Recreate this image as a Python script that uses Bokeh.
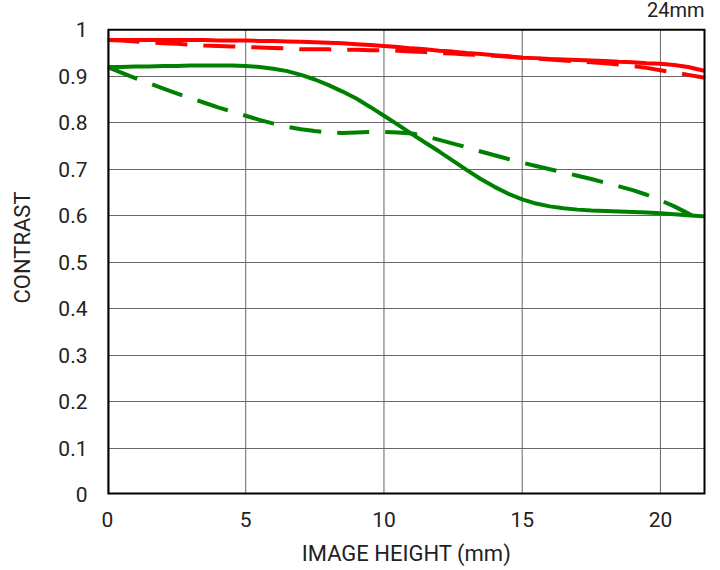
from bokeh.plotting import figure
from bokeh.models import Range1d, FixedTicker, CustomJSTickFormatter, Label
from bokeh.embed import file_html
from bokeh.resources import INLINE

# ---- data ----
image_height = [0, 0.5, 1, 1.5, 2, 2.5, 3, 3.5, 4, 4.5, 5, 5.5, 6, 6.5, 7, 7.5, 8, 8.5, 9, 9.5,
                10, 10.5, 11, 11.5, 12, 12.5, 13, 13.5, 14, 14.5, 15, 15.5, 16, 16.5, 17, 17.5,
                18, 18.5, 19, 19.5, 20, 20.5, 21, 21.5, 21.63]
red_solid = [0.978, 0.978, 0.978, 0.978, 0.978, 0.978, 0.978, 0.978, 0.977, 0.977, 0.977, 0.976,
             0.976, 0.975, 0.974, 0.973, 0.972, 0.971, 0.969, 0.967, 0.965, 0.963, 0.960, 0.958,
             0.955, 0.953, 0.950, 0.948, 0.945, 0.943, 0.940, 0.939, 0.937, 0.936, 0.935, 0.934,
             0.933, 0.931, 0.930, 0.928, 0.927, 0.924, 0.920, 0.913, 0.911]
red_dashed = [0.978, 0.977, 0.975, 0.973, 0.971, 0.970, 0.968, 0.966, 0.965, 0.964, 0.963, 0.962,
              0.961, 0.960, 0.958, 0.958, 0.958, 0.957, 0.957, 0.956, 0.956, 0.955, 0.953, 0.952,
              0.950, 0.949, 0.947, 0.946, 0.944, 0.942, 0.940, 0.938, 0.936, 0.934, 0.932, 0.930,
              0.928, 0.925, 0.922, 0.918, 0.913, 0.908, 0.903, 0.898, 0.896]
green_solid = [0.920, 0.920, 0.921, 0.921, 0.922, 0.922, 0.923, 0.923, 0.923, 0.923, 0.922, 0.920,
               0.916, 0.911, 0.903, 0.893, 0.881, 0.867, 0.852, 0.834, 0.815, 0.796, 0.776, 0.757,
               0.738, 0.718, 0.698, 0.679, 0.662, 0.647, 0.635, 0.626, 0.620, 0.616, 0.613, 0.611,
               0.610, 0.609, 0.608, 0.607, 0.605, 0.603, 0.601, 0.599, 0.598]
green_dashed = [0.920, 0.908, 0.896, 0.885, 0.874, 0.863, 0.853, 0.843, 0.833, 0.824, 0.815, 0.806,
                0.798, 0.791, 0.786, 0.782, 0.779, 0.778, 0.779, 0.780, 0.780, 0.779, 0.777, 0.771,
                0.763, 0.755, 0.747, 0.738, 0.730, 0.722, 0.714, 0.707, 0.700, 0.693, 0.686, 0.679,
                0.671, 0.663, 0.655, 0.645, 0.633, 0.620, 0.605, 0.588, 0.582]
x_ticks = [0, 5, 10, 15, 20]
y_ticks = [0, 0.1, 0.2, 0.3, 0.4, 0.5, 0.6, 0.7, 0.8, 0.9, 1.0]
title_text = "24mm"
x_label = "IMAGE HEIGHT (mm)"
y_label = "CONTRAST"

X_MAX = 21.63
Y_MAX = 1.0
Y_HEADROOM = 1.063  # room above the chart box for the "24mm" caption

FONT = "Roboto"
TXT = "#222222"
GRID = "#666666"

p = figure(width=720, height=570, output_backend="svg", toolbar_location=None,
           x_range=Range1d(0, X_MAX), y_range=Range1d(0, Y_HEADROOM),
           min_border_left=107, min_border_right=15, min_border_top=0, min_border_bottom=76)
p.background_fill_color = "white"
p.border_fill_color = "white"
p.outline_line_color = None

# grid: horizontal lines from the y grid, vertical lines limited to the chart box
p.ygrid.grid_line_color = GRID
p.ygrid.grid_line_width = 1
p.xgrid.visible = False
p.segment(x0=x_ticks, y0=[0] * len(x_ticks), x1=x_ticks, y1=[Y_MAX] * len(x_ticks),
          line_color=GRID, line_width=1)

p.line(image_height, red_solid, line_color="#ff0000", line_width=4)
p.line(image_height, red_dashed, line_color="#ff0000", line_width=4, line_dash="32 16")
p.line(image_height, green_solid, line_color="#008000", line_width=4)
p.line(image_height, green_dashed, line_color="#008000", line_width=4, line_dash="32 16")

# chart box border (left/bottom/right lie on the frame edge, so half is clipped)
p.line([0, 0, X_MAX, X_MAX], [Y_MAX, 0, 0, Y_MAX], line_color="black", line_width=4)
p.line([0, X_MAX], [Y_MAX, Y_MAX], line_color="black", line_width=2)

p.xaxis.ticker = FixedTicker(ticks=x_ticks)
p.yaxis.ticker = FixedTicker(ticks=y_ticks)
p.yaxis.formatter = CustomJSTickFormatter(
    code="return (Math.abs(tick) < 1e-9 || Math.abs(tick - 1) < 1e-9) ? tick.toFixed(0) : tick.toFixed(1);")

for ax in (p.xaxis, p.yaxis):
    ax.axis_line_color = None
    ax.major_tick_line_color = None
    ax.minor_tick_line_color = None
    ax.major_tick_out = 0
    ax.major_tick_in = 0
    ax.major_label_text_font = FONT
    ax.major_label_text_font_size = "21px"
    ax.major_label_text_color = TXT
    ax.axis_label_text_font = FONT
    ax.axis_label_text_font_size = "22px"
    ax.axis_label_text_font_style = "normal"
    ax.axis_label_text_color = TXT

p.xaxis.axis_label = x_label
p.yaxis.axis_label = y_label
p.yaxis.major_label_standoff = 20
p.xaxis.major_label_standoff = 17
p.yaxis.axis_label_standoff = 20
p.xaxis.axis_label_standoff = 11

caption = Label(x=X_MAX, y=Y_MAX, text=title_text, text_align="right", text_baseline="alphabetic",
                x_offset=-1, y_offset=20, text_font=FONT, text_font_size="20px", text_color=TXT)
p.add_layout(caption)

open("out.html", "w").write(file_html(p, INLINE))
